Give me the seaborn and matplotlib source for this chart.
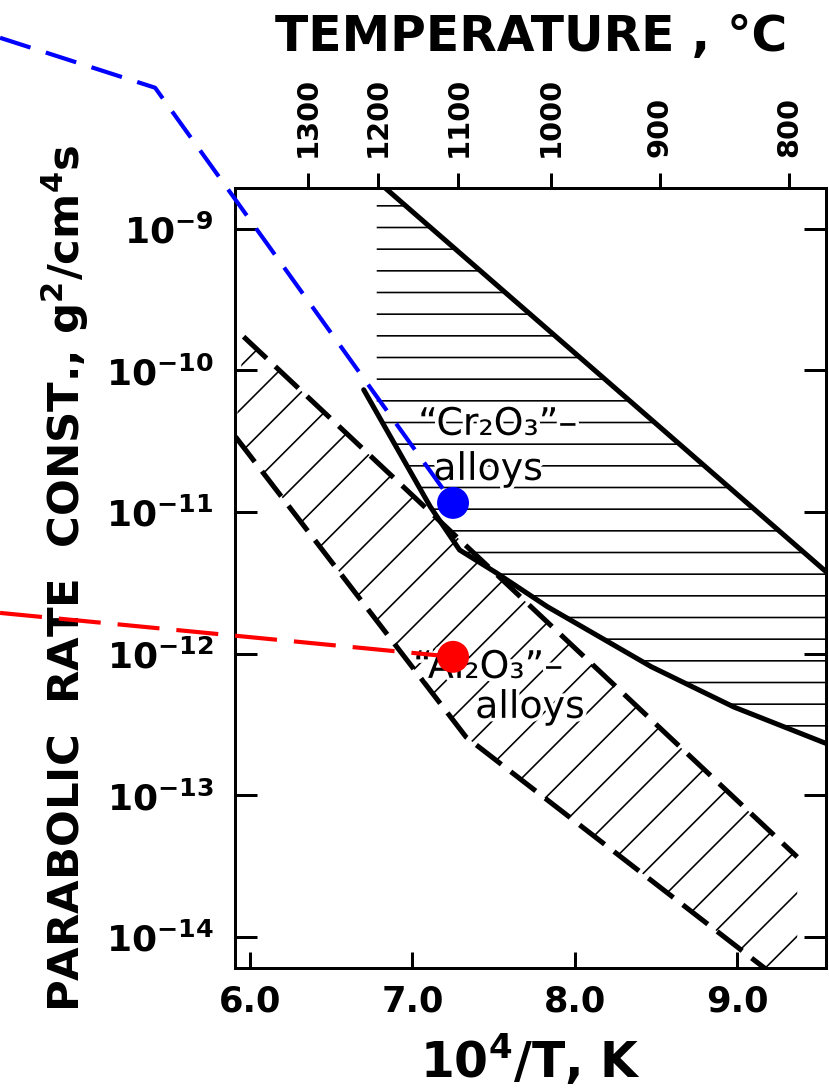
import numpy as np
import matplotlib
matplotlib.use("Agg")
import matplotlib.pyplot as plt
import matplotlib.ticker as mticker
import matplotlib.patheffects as pe
import seaborn as sns

# Reciprocal temperature 10^4/T (K) and parabolic rate constants (g^2 cm^-4 s^-1)

# "Cr2O3"-forming alloys: limits of the band
cr_upper_x = [6.83, 9.57]
cr_upper_k = [1.95e-9, 3.6e-12]
cr_lower_x = [6.70, 7.11, 7.29, 7.52, 7.83, 8.47, 8.98, 9.57]
cr_lower_k = [7.3e-11, 1.09e-11, 5.4e-12, 3.7e-12, 2.15e-12, 8.1e-13, 4.2e-13, 2.27e-13]
cr_band_x = [6.78, 9.60, 9.60, 8.98, 8.47, 7.83, 7.52, 7.29, 7.11, 6.78]
cr_band_k = [2.2e-9, 3.34e-12, 2.2e-13, 4.2e-13, 8.1e-13, 2.15e-12, 3.7e-12, 5.4e-12, 1.09e-11, 5.0e-11]

# "Al2O3"-forming alloys: limits of the band
al_upper_x = [5.96, 9.37]
al_upper_k = [1.73e-10, 3.67e-14]
al_lower_x = [5.91, 7.33, 9.26]
al_lower_k = [3.4e-11, 2.58e-13, 5.0e-15]
al_band_x = [5.91, 5.96, 9.37, 9.37, 9.26, 7.33, 5.91]
al_band_k = [3.4e-11, 1.73e-10, 3.67e-14, 4.0e-15, 5.0e-15, 2.58e-13, 3.4e-11]

# Measured points at 1100 degC and their leader lines
blue_x = [4.46, 5.415, 7.25]
blue_k = [2.23e-8, 9.9e-9, 1.16e-11]
red_x = [4.46, 7.25]
red_k = [1.94e-12, 9.5e-13]
point_x = [7.25, 7.25]
point_k = [1.16e-11, 9.5e-13]
point_color = ["#0000ff", "#ff0000"]

# Axis ticks
x_ticks = [6.0, 7.0, 8.0, 9.0]
y_ticks = [1e-9, 1e-10, 1e-11, 1e-12, 1e-13, 1e-14]
temp_ticks = [1300, 1200, 1100, 1000, 900, 800]

DPI = 130
sns.set_theme(style="ticks")
plt.rcParams.update({
    "font.family": ["DejaVu Sans"],
    "font.weight": "bold",
    "mathtext.fontset": "custom",
    "mathtext.rm": "DejaVu Sans:bold",
    "mathtext.it": "DejaVu Sans:bold",
    "mathtext.bf": "DejaVu Sans:bold",
    "mathtext.default": "regular",
    "hatch.linewidth": 0.9,
    "lines.scale_dashes": False,
    "axes.linewidth": 1.66,
    "axes.edgecolor": "black",
    "axes.labelcolor": "black",
    "text.color": "black",
    "xtick.color": "black",
    "ytick.color": "black",
    "xtick.labelcolor": "black",
    "ytick.labelcolor": "black",
})

fig = plt.figure(figsize=(829.3 / DPI, 1092.3 / DPI), dpi=DPI, facecolor="white")
ax = fig.add_axes([235 / 829, 1 - 968 / 1092, (826 - 235) / 829, (968 - 188) / 1092])
ax.set_facecolor("white")
ax.set_yscale("log")
ax.set_xlim(5.9076, 9.549)
ax.set_ylim(10 ** -14.219, 10 ** -8.7105)

# hatched bands
ax.fill(cr_band_x, cr_band_k, facecolor="none", edgecolor="black", hatch="-",
        linewidth=0, zorder=1)
ax.fill(al_band_x, al_band_k, facecolor="none", edgecolor="black", hatch="/",
        linewidth=0, zorder=1)

# band limits
sns.lineplot(x=cr_upper_x, y=cr_upper_k, ax=ax, color="black", linewidth=2.8,
             sort=False, estimator=None, zorder=3)
sns.lineplot(x=cr_lower_x, y=cr_lower_k, ax=ax, color="black", linewidth=2.8,
             sort=False, estimator=None, zorder=3)
al_dash = (0, (17.5, 6.6))
sns.lineplot(x=al_upper_x, y=al_upper_k, ax=ax, color="black", linewidth=2.8,
             linestyle=al_dash, sort=False, estimator=None, zorder=3)
sns.lineplot(x=al_lower_x, y=al_lower_k, ax=ax, color="black", linewidth=2.8,
             linestyle=al_dash, sort=False, estimator=None, zorder=3)

# band captions
halo = [pe.withStroke(linewidth=4, foreground="white")]
txt_kw = dict(fontsize=21, fontweight="normal", ha="left", va="baseline",
              color="black", zorder=4, path_effects=halo)
ax.text(7.035, 10 ** -10.455, "\u201cCr\u2082O\u2083\u201d\u2013", **txt_kw)
ax.text(7.128, 10 ** -10.773, "alloys", **txt_kw)
ax.text(7.004, 10 ** -12.171, "\u201cAl\u2082O\u2083\u201d\u2013", **txt_kw)
ax.text(7.386, 10 ** -12.453, "alloys", **txt_kw)

# leader lines and points
sns.lineplot(x=blue_x, y=blue_k, ax=ax, color="#0000ff", linewidth=2.3,
             linestyle=(0, (17.7, 8.9)), sort=False, estimator=None,
             clip_on=False, zorder=6)
sns.lineplot(x=red_x, y=red_k, ax=ax, color="#ff0000", linewidth=2.3,
             linestyle=(0, (23.3, 9.4)), sort=False, estimator=None,
             clip_on=False, zorder=6)
sns.scatterplot(x=point_x, y=point_k, hue=point_color, palette=point_color,
                legend=False, s=313, linewidth=0, ax=ax, zorder=7, clip_on=False)

# bottom / left / right axes
ax.set_xticks(x_ticks)
ax.xaxis.set_major_formatter(mticker.FormatStrFormatter("%.1f"))
ax.set_yticks(y_ticks)
ax.yaxis.set_minor_locator(mticker.NullLocator())
ax.xaxis.set_minor_locator(mticker.NullLocator())
ax.tick_params(axis="x", direction="in", length=9, width=1.66, pad=9,
               labelsize=19.5, top=False, colors="black")
ax.tick_params(axis="y", direction="in", length=12, width=1.66, pad=12,
               labelsize=20, right=True, colors="black")
for lab in ax.get_xticklabels() + ax.get_yticklabels():
    lab.set_fontweight("bold")

ax.set_xlabel("10$^4$/T, K", fontsize=27, fontweight="bold", labelpad=8,
              color="black")
ax.set_ylabel("PARABOLIC  RATE  CONST., g$^2$/cm$^4$s", fontsize=24,
              fontweight="bold", labelpad=8, color="black")
for s in ax.spines.values():
    s.set_visible(True)
    s.set_linewidth(1.66)
    s.set_edgecolor("black")


# top axis in degrees Celsius
def to_celsius(v):
    v = np.asarray(v, dtype=float)
    with np.errstate(divide="ignore", invalid="ignore"):
        return 1e4 / v - 273.15


def to_recip(t):
    t = np.asarray(t, dtype=float)
    with np.errstate(divide="ignore", invalid="ignore"):
        return 1e4 / (t + 273.15)


secax = ax.secondary_xaxis("top", functions=(to_celsius, to_recip))
secax.set_xticks(temp_ticks)
secax.xaxis.set_minor_locator(mticker.NullLocator())
secax.tick_params(axis="x", direction="out", length=8.3, width=1.66, pad=9,
                  labelsize=16, labelrotation=90, colors="black")
for lab in secax.get_xticklabels():
    lab.set_fontweight("bold")
secax.spines["top"].set_linewidth(1.66)
secax.spines["top"].set_edgecolor("black")
secax.set_xlabel("TEMPERATURE , \u00b0C", fontsize=27, fontweight="bold",
                 labelpad=14, color="black")

fig.savefig("out.png", dpi=DPI, facecolor="white")
